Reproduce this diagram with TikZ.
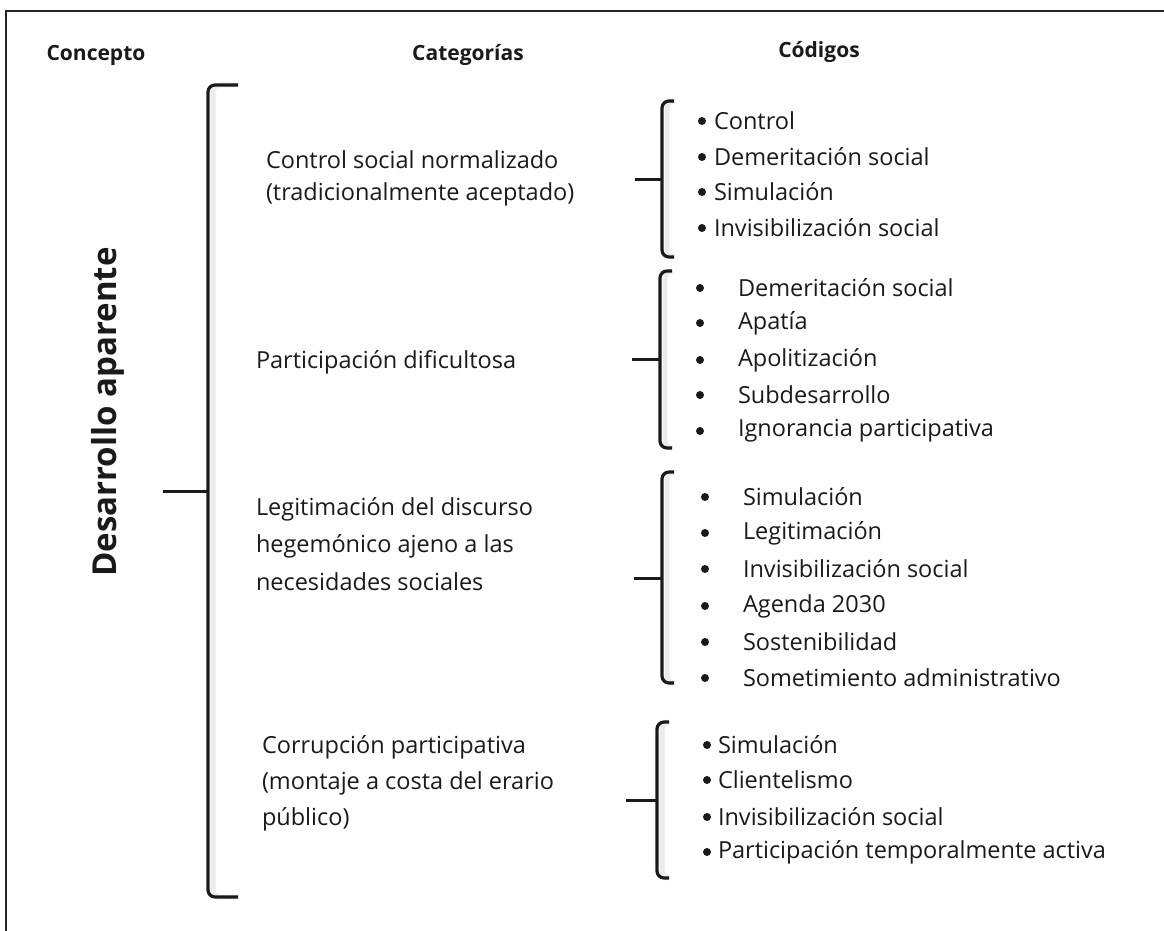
\documentclass[tikz,border=0pt]{standalone}
\usepackage{fontspec}
\setmainfont{Open Sans}
\begin{document}
\begin{tikzpicture}[x=1pt,y=-1pt,
  txt/.style={inner sep=0pt,outer sep=0pt,text=ink,font=\fontsize{23.5}{36}\selectfont},
  head/.style={inner sep=0pt,text=ink,font=\fontsize{21}{24}\selectfont\bfseries},
  item/.style={txt,anchor=west},
  dot/.style={circle,fill=ink,inner sep=0pt,minimum size=8pt},
  brk/.style={line width=3.2pt,rounded corners=7pt,draw=ink},
  brkshade/.style={line width=5pt,draw=black!8,rounded corners=7pt,xshift=5pt},
  tick/.style={line width=3pt,draw=ink}]
\definecolor{ink}{HTML}{1A1A1A}
\useasboundingbox (0,0) rectangle (1164,931);

% outer frame (open towards the lower right)
\draw[line width=2.4pt,draw=black!85] (6,931) -- (6,11) -- (1164,11);

% column headings
\node[head] (hconcepto) at (96,55) {Concepto};
\node[head] (hcat) at (468,55) {Categorías};
\node[head] (hcod) at (819,52) {Códigos};

% concept
\node[inner sep=0pt,text=ink,rotate=90,font=\fontsize{33}{40}\selectfont\bfseries] (concepto) at (108,412) {Desarrollo aparente};

% main bracket
\coordinate (mbT) at (238,85);
\coordinate (mbB) at (238,897);
\coordinate (mbM) at (208,491);
\coordinate (mbTick) at (163,491);
\draw[brkshade] (mbT) -- (208,85) -- (208,897) -- (mbB);
\draw[brk] (mbT) -- (208,85) -- (208,897) -- (mbB);
\draw[tick] (mbM) -- (mbTick);

% categories
\node[item] (cat1a) at (266,160) {Control social normalizado};
\node[item] (cat1b) at (266,194) {(tradicionalmente aceptado)};
\node[item] (cat2) at (256,362) {Participación dificultosa};
\node[item] (cat3a) at (256,509) {Legitimación del discurso};
\node[item] (cat3b) at (256,546) {hegemónico ajeno a las};
\node[item] (cat3c) at (256,582) {necesidades sociales};
\node[item] (cat4a) at (262,747) {Corrupción participativa};
\node[item] (cat4b) at (262,783) {(montaje a costa del erario};
\node[item] (cat4c) at (262,819) {público)};

% group brackets
\foreach \n/\x/\t/\b/\m/\l in {g1/662/101/257/179/635, g2/660/271/448/359/632, g3/662/472/683/578/634, g4/657/722/878/800/626}{
  \coordinate (\n T) at (\x+12,\t);
  \coordinate (\n B) at (\x+12,\b);
  \coordinate (\n M) at (\x,\m);
  \coordinate (\n L) at (\l,\m);
  \draw[brkshade] (\n T) -- (\x,\t) -- (\x,\b) -- (\n B);
  \draw[brk] (\n T) -- (\x,\t) -- (\x,\b) -- (\n B);
  \draw[tick] (\n M) -- (\n L);
}

% codes, group 1
\foreach \i/\y/\s in {1/121/Control, 2/157/Demeritación social, 3/192/Simulación, 4/228/Invisibilización social}{
  \node[dot] (a\i dot) at (702,\y) {};
  \node[item] (a\i) at (714,\y) {\s};
}
% codes, group 2
\foreach \i/\y/\s in {1/288/Demeritación social, 2/323/Apatía, 3/360/Apolitización, 4/395/Subdesarrollo, 5/431/Ignorancia participativa}{
  \node[dot] (b\i dot) at (700,\y) {};
  \node[item] (b\i) at (738,\y) {\s};
}
% codes, group 3
\foreach \i/\y/\s in {1/497/Simulación, 2/533/Legitimación, 3/569/Invisibilización social, 4/606/Agenda 2030, 5/642/Sostenibilidad, 6/678/Sometimiento administrativo}{
  \node[dot] (c\i dot) at (705,\y) {};
  \node[item] (c\i) at (743,\y) {\s};
}
% codes, group 4
\foreach \i/\y/\s in {1/745/Simulación, 2/780/Clientelismo, 3/817/Invisibilización social, 4/852/Participación temporalmente activa}{
  \node[dot] (d\i dot) at (707,\y) {};
  \node[item] (d\i) at (718,\y) {\s};
}
\end{tikzpicture}
\end{document}
